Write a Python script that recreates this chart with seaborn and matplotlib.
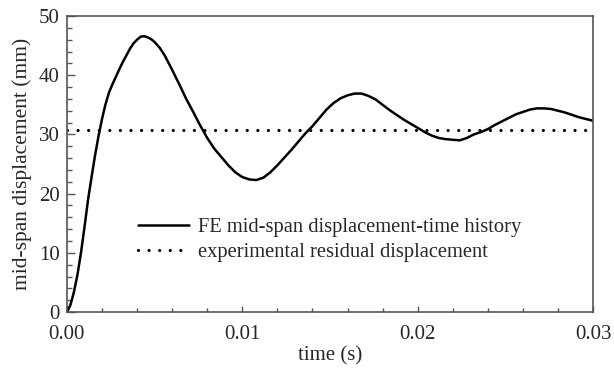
import matplotlib
matplotlib.use("Agg")
import matplotlib.pyplot as plt
from matplotlib.ticker import MultipleLocator, FormatStrFormatter
import seaborn as sns
import pandas as pd

# FE mid-span displacement history
time_s = [0.0000, 0.0002, 0.0004, 0.0006, 0.0008, 0.0010, 0.0012, 0.0014, 0.0016, 0.0018,
          0.0020, 0.0022, 0.0024, 0.0026, 0.0028, 0.0030, 0.0032, 0.0034, 0.0036, 0.0038,
          0.0040, 0.0042, 0.0044, 0.0046, 0.0048, 0.0050, 0.0053, 0.0056, 0.0060, 0.0064,
          0.0068, 0.0072, 0.0076, 0.0080, 0.0084, 0.0088, 0.0092, 0.0096, 0.0100, 0.0104,
          0.0108, 0.0112, 0.0116, 0.0120, 0.0124, 0.0128, 0.0132, 0.0136, 0.0140, 0.0144,
          0.0148, 0.0152, 0.0156, 0.0160, 0.0164, 0.0168, 0.0172, 0.0176, 0.0180, 0.0184,
          0.0188, 0.0192, 0.0196, 0.0200, 0.0204, 0.0208, 0.0212, 0.0216, 0.0220, 0.0224,
          0.0228, 0.0232, 0.0236, 0.0240, 0.0244, 0.0248, 0.0252, 0.0256, 0.0260, 0.0264,
          0.0268, 0.0272, 0.0276, 0.0280, 0.0284, 0.0288, 0.0292, 0.0296, 0.0300]
disp_mm = [0.0, 1.2, 3.4, 6.3, 10.0, 14.3, 18.9, 22.7, 26.4, 29.7,
           32.6, 35.1, 37.1, 38.5, 39.8, 41.1, 42.3, 43.4, 44.5, 45.4,
           46.0, 46.5, 46.6, 46.4, 46.1, 45.6, 44.6, 43.2, 40.9, 38.5,
           36.0, 33.8, 31.5, 29.4, 27.6, 26.2, 24.8, 23.6, 22.8, 22.4,
           22.3, 22.7, 23.6, 24.8, 26.1, 27.4, 28.8, 30.2, 31.4, 32.8,
           34.2, 35.3, 36.1, 36.6, 36.9, 36.9, 36.5, 35.9, 35.0, 34.1,
           33.3, 32.5, 31.8, 31.1, 30.4, 29.8, 29.4, 29.2, 29.1, 29.0,
           29.4, 30.0, 30.4, 30.9, 31.6, 32.2, 32.8, 33.4, 33.8, 34.2,
           34.4, 34.4, 34.3, 34.0, 33.7, 33.3, 32.9, 32.6, 32.3]

# measured residual displacement (horizontal reference)
residual_time = [0.0, 0.03]
residual_disp = [30.7, 30.7]

sns.set_style("ticks")
plt.rcParams["font.family"] = ["Liberation Serif", "DejaVu Serif"]

fig = plt.figure(figsize=(6.14, 3.68), dpi=100)
ax = fig.add_axes([0.109, 0.152, 0.857, 0.8045])

fe = pd.DataFrame({"t": time_s, "d": disp_mm})
ex = pd.DataFrame({"t": residual_time, "d": residual_disp})

sns.lineplot(data=fe, x="t", y="d", ax=ax, color="black", linewidth=1.8,
             label="FE mid-span displacement-time history")
sns.lineplot(data=ex, x="t", y="d", ax=ax, color="black", linewidth=2.3,
             label="experimental residual displacement")
dotted = ax.get_lines()[1]
dotted.set_dashes((0.01, 3.3))
dotted.set_dash_capstyle("round")

ax.set_xlim(0, 0.03)
ax.set_ylim(0, 50)
ax.xaxis.set_major_locator(MultipleLocator(0.01))
ax.xaxis.set_minor_locator(MultipleLocator(0.002))
ax.yaxis.set_major_locator(MultipleLocator(10))
ax.yaxis.set_minor_locator(MultipleLocator(2))
ax.xaxis.set_major_formatter(FormatStrFormatter("%.2f"))

spine_color = "#555555"
for s in ax.spines.values():
    s.set_visible(True)
    s.set_color(spine_color)
    s.set_linewidth(1.2)

ax.tick_params(which="both", direction="in", top=False, right=False,
               color=spine_color, width=1.0, labelsize=15)
ax.tick_params(axis="x", which="major", length=4.2, pad=9)
ax.tick_params(axis="x", which="minor", length=2.6)
ax.tick_params(axis="y", which="major", length=5.8, pad=5)
ax.tick_params(axis="y", which="minor", length=3.8)

ax.set_xlabel("time (s)", fontsize=15, labelpad=2)
ax.set_ylabel("mid-span displacement (mm)", fontsize=15.5, labelpad=5)

leg = ax.legend(loc="lower left", bbox_to_anchor=(0.12, 0.14), frameon=False,
                fontsize=14.8, handlelength=2.45, handletextpad=0.45,
                labelspacing=0.3, borderaxespad=0)
leg.get_lines()[1].set_dashes((0.01, 3.3))
leg.get_lines()[1].set_dash_capstyle("round")

fig.savefig("out.png", dpi=100)
